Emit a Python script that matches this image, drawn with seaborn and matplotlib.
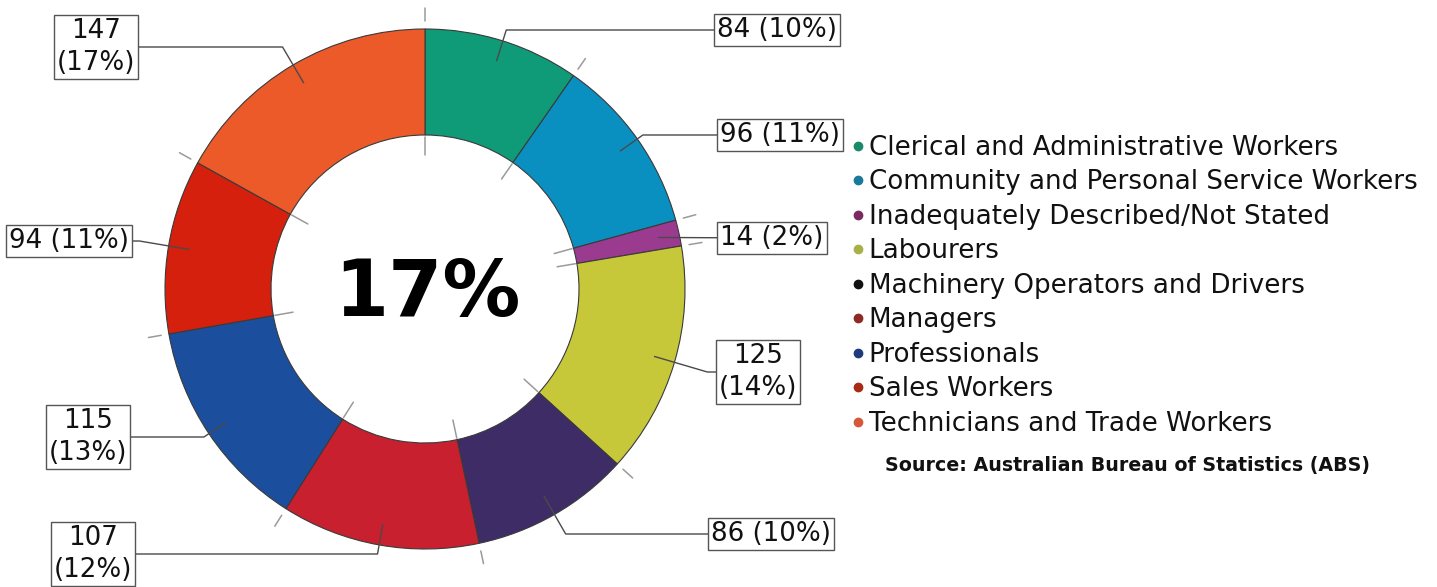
import numpy as np
import matplotlib
matplotlib.use("Agg")
import matplotlib.pyplot as plt
from matplotlib.lines import Line2D
import seaborn as sns

# ---------------- data ----------------
categories = [
    "Clerical and Administrative Workers",
    "Community and Personal Service Workers",
    "Inadequately Described/Not Stated",
    "Labourers",
    "Machinery Operators and Drivers",
    "Managers",
    "Professionals",
    "Sales Workers",
    "Technicians and Trade Workers",
]
values = [84, 96, 14, 125, 86, 107, 115, 94, 147]
slice_colors = ["#0f9a78", "#0a90c0", "#9b3b8f", "#c6c83a", "#3e2c66",
                "#c8202e", "#1b4f9e", "#d4200c", "#ec5a2a"]
legend_colors = ["#1a8a6a", "#1a7a9a", "#7a2a5e", "#a8b048", "#111111",
                 "#8c2a26", "#1e3c7c", "#a82a14", "#d4583a"]
two_line = [False, False, False, True, False, True, True, False, True]
center_text = "17%"
source_text = "Source: Australian Bureau of Statistics (ABS)"

# label box centres (pixel layout, y from top)
label_pos = [(777, 30), (780, 135), (772, 238), (758, 372), (771, 534),
             (93, 554), (88, 437), (69, 241), (96, 47)]

# ---------------- style ----------------
sns.set_theme(style="white")
plt.rcParams['font.family'] = ['DejaVu Sans']

W, H = 1437, 587
fig = plt.figure(figsize=(W / 100, H / 100), dpi=100)
ax = fig.add_axes([0, 0, 1, 1])

cx, cy = 425, H - 289
R, r_in = 260, 154

wedges, _ = ax.pie(values, colors=slice_colors, startangle=90, counterclock=False,
                   center=(cx, cy), radius=R,
                   wedgeprops=dict(width=R - r_in, edgecolor="#3a3a3a", linewidth=0.8))
ax.set_xlim(0, W)
ax.set_ylim(0, H)
ax.set_aspect('equal')
ax.axis('off')

total = float(sum(values))
cum = np.concatenate([[0], np.cumsum(values)])

# small grey tick marks at slice boundaries
for c in cum[:-1]:
    th = np.deg2rad(90 - 360 * c / total)
    ct, st = np.cos(th), np.sin(th)
    ax.plot([cx + 1.03 * R * ct, cx + 1.08 * R * ct], [cy + 1.03 * R * st, cy + 1.08 * R * st],
            color="#9a9a9a", lw=1.1, zorder=1)
    ax.plot([cx + 0.87 * r_in * ct, cx + 0.99 * r_in * ct], [cy + 0.87 * r_in * st, cy + 0.99 * r_in * st],
            color="#9a9a9a", lw=1.1, zorder=1)

# labels with leader lines
for i, v in enumerate(values):
    pct = int(round(100 * v / total))
    txt = f"{v}\n({pct}%)" if two_line[i] else f"{v} ({pct}%)"
    th = np.deg2rad(90 - 360 * (cum[i] + v / 2) / total)
    ct, st = np.cos(th), np.sin(th)
    ax_, ay_ = cx + 0.92 * R * ct, cy + 0.92 * R * st
    bx, by = label_pos[i][0], H - label_pos[i][1]
    ex, ey = ax_, ay_
    if abs(st) > 0.05:
        t = (by - ay_) / st
        if t > 0:
            ex, ey = ax_ + t * ct, by
    ax.plot([bx, ex, ax_], [by, ey, ay_], color="#4a4a4a", lw=1.0, zorder=3)
    ax.text(bx, by, txt, ha='center', va='center', fontsize=18.8, multialignment='center',
            linespacing=1.3, color="#111111", zorder=5,
            bbox=dict(boxstyle="square,pad=0.12", facecolor="white", edgecolor="#555555", linewidth=1.0))

# centre text
ax.text(427, H - 316, center_text, ha='center', va='baseline', fontsize=56,
        fontweight='bold', color='black', zorder=6)

# legend
handles = [Line2D([0], [0], marker='o', linestyle='None', markersize=6,
                  markerfacecolor=c, markeredgecolor=c) for c in legend_colors]
fig.legend(handles, categories, loc='upper left', bbox_to_anchor=(853 / W, 1 - 135 / H),
           frameon=False, fontsize=18.8, handlelength=0.4, handletextpad=0.2,
           labelspacing=0.325, borderaxespad=0, borderpad=0, labelcolor='#111111')

ax.text(885, H - 466, source_text, ha='left', va='center', fontsize=13.7,
        fontweight='bold', color='#111111')

fig.savefig("out.png", dpi=100)
